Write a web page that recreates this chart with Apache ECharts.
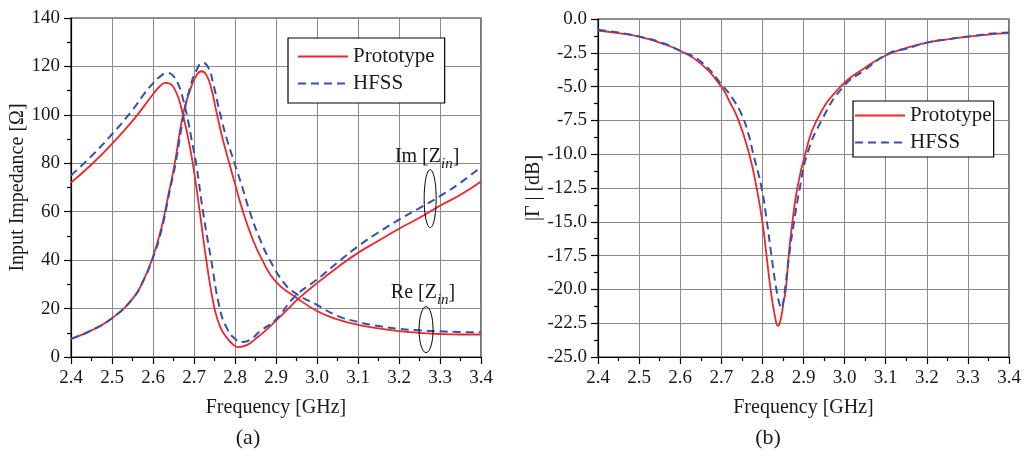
<!DOCTYPE html>
<html>
<head>
<meta charset="utf-8">
<script src="https://cdn.jsdelivr.net/npm/echarts@6/dist/echarts.min.js"></script>
<style>
html,body{margin:0;padding:0;background:#fff;}
#c{width:1028px;height:456px;}
</style>
</head>
<body>
<div id="c"></div>
<script>
// ---------- Data ----------
const xTickLabels = ['2.4','2.5','2.6','2.7','2.8','2.9','3.0','3.1','3.2','3.3','3.4'];

// (a) Re[Zin], prototype
const reProtoF = [2.40,2.45,2.50,2.55,2.575,2.60,2.62,2.64,2.653,2.673,2.69,2.705,2.718,2.73,2.742,2.755,2.77,2.787,2.80,2.816,2.84,2.865,2.90,2.95,3.00,3.05,3.10,3.15,3.20,3.25,3.30,3.35,3.40];
const reProtoV = [7.5,11,16,24,31,41.5,53,69,80,100,110,116,118,116.5,111,101,90,79.5,71.5,62,50,40.5,31,24.5,19,15.5,13.3,11.8,10.7,10,9.5,9.3,9.3];
// (a) Re[Zin], HFSS
const reHfssF = [2.40,2.45,2.50,2.55,2.575,2.60,2.62,2.64,2.655,2.675,2.69,2.705,2.722,2.735,2.748,2.763,2.78,2.80,2.818,2.836,2.86,2.885,2.92,2.946,3.00,3.05,3.10,3.15,3.20,3.25,3.30,3.35,3.40];
const reHfssV = [7.5,11,16,24,31,41,52,68,80,100,111,118,121.5,119.5,112,101,90,79.5,70,60,49,40,30.5,26.5,21.5,17,14.5,12.8,11.6,11,10.6,10.3,10.2];
// (a) Im[Zin], prototype
const imProtoF = [2.40,2.45,2.50,2.55,2.58,2.60,2.615,2.63,2.642,2.653,2.663,2.673,2.685,2.698,2.714,2.73,2.75,2.765,2.78,2.795,2.808,2.83,2.85,2.875,2.90,2.93,2.954,3.00,3.05,3.10,3.15,3.20,3.25,3.30,3.35,3.40];
const imProtoV = [72,79.5,88,97.5,104,108.5,111.5,113.2,112.8,110.5,106.5,100,91,79,60,40,20,12,8,5.2,4.1,5,7.5,11,15,20,24,30.5,37,43,48,53,57.5,62.5,67,72.5];
// (a) Im[Zin], HFSS
const imHfssF = [2.40,2.45,2.50,2.55,2.58,2.60,2.62,2.635,2.65,2.662,2.674,2.685,2.695,2.706,2.722,2.742,2.763,2.78,2.80,2.82,2.84,2.86,2.90,2.946,3.00,3.05,3.10,3.15,3.20,3.25,3.30,3.35,3.40];
const imHfssV = [75,83,92,102,109,113,116.2,117.3,116,112.5,106,98,89,79,60,40,20,12,7.5,6.2,7.5,10.5,15.5,25,32,39,45.7,51.5,56.7,61.5,66.4,72,78.5];

// (b) |Gamma| dB, prototype
const gProtoF = [2.40,2.45,2.50,2.55,2.60,2.65,2.70,2.72,2.742,2.768,2.786,2.80,2.81,2.82,2.83,2.838,2.846,2.851,2.857,2.864,2.873,2.885,2.904,2.932,2.99,3.05,3.10,3.15,3.20,3.25,3.30,3.35,3.40];
const gProtoV = [-0.85,-1.05,-1.3,-1.75,-2.35,-3.3,-5.0,-6.1,-7.5,-10,-12.5,-15,-17.5,-20,-21.9,-22.7,-22.0,-21.0,-20,-17.5,-15,-12.5,-10,-7.5,-5,-3.6,-2.7,-2.15,-1.75,-1.5,-1.3,-1.15,-1.05];
// (b) |Gamma| dB, HFSS
const gHfssF = [2.40,2.45,2.50,2.55,2.60,2.65,2.705,2.73,2.75,2.765,2.778,2.798,2.811,2.822,2.834,2.841,2.846,2.851,2.855,2.865,2.877,2.891,2.909,2.944,2.997,3.05,3.11,3.15,3.20,3.25,3.30,3.35,3.40];
const gHfssV = [-0.8,-1.0,-1.3,-1.7,-2.35,-3.15,-5,-6.0,-7.1,-8.4,-10,-12.5,-15,-17.5,-20,-21.0,-21.4,-20.9,-20,-17.5,-15,-12.5,-10,-7.5,-5,-3.75,-2.5,-2.2,-1.75,-1.5,-1.3,-1.1,-1.0];

// annotation anchors (data coordinates in panel a)
const imLabelAt = [3.19, 82.7];
const reLabelAt = [3.18, 26.6];
const imEllipseAt = [3.276, 65.4];
const reEllipseAt = [3.266, 11.3];

// ---------- Helpers ----------
const zip = (f, v) => f.map((x, i) => [x, v[i]]);
const RED = '#f0262a';
const BLUE = '#3352b0';
const FONT = '"Liberation Serif", "DejaVu Serif", serif';
const TXT = '#1a1a1a';

function xAxisFor(gi) {
  return {
    type: 'value', gridIndex: gi, min: 2.4, max: 3.4, interval: 0.1,
    name: 'Frequency [GHz]', nameLocation: 'middle', nameGap: 41,
    nameTextStyle: { fontFamily: FONT, fontSize: 20, color: TXT },
    axisLine: { show: true, onZero: false, lineStyle: { color: '#000', width: 1.2 } },
    axisTick: { show: true, inside: false, length: 7, lineStyle: { color: '#000', width: 1.2 } },
    minorTick: { show: true, splitNumber: 2, length: 4, lineStyle: { color: '#000', width: 1.2 } },
    axisLabel: { margin: 12, fontFamily: FONT, fontSize: 19, color: TXT,
      formatter: v => xTickLabels[Math.round((v - 2.4) * 10)] },
    splitLine: { show: true, lineStyle: { color: '#8a8a8a', width: 1 } }
  };
}

const series = [
  { name: 'Prototype', xAxisIndex: 0, yAxisIndex: 0, data: zip(reProtoF, reProtoV) },
  { name: 'HFSS', xAxisIndex: 0, yAxisIndex: 0, data: zip(reHfssF, reHfssV), dashed: true },
  { name: 'Prototype', xAxisIndex: 0, yAxisIndex: 0, data: zip(imProtoF, imProtoV) },
  { name: 'HFSS', xAxisIndex: 0, yAxisIndex: 0, data: zip(imHfssF, imHfssV), dashed: true },
  { name: 'Prototype', xAxisIndex: 1, yAxisIndex: 1, data: zip(gProtoF, gProtoV) },
  { name: 'HFSS', xAxisIndex: 1, yAxisIndex: 1, data: zip(gHfssF, gHfssV), dashed: true }
].map(s => ({
  name: s.name, type: 'line', xAxisIndex: s.xAxisIndex, yAxisIndex: s.yAxisIndex,
  data: s.data, showSymbol: false, symbol: 'none', smooth: 0.5, animation: false,
  z: s.dashed ? 3 : 2,
  lineStyle: s.dashed
    ? { color: BLUE, width: 2, type: [8, 5] }
    : { color: RED, width: 1.8 },
  itemStyle: { color: s.dashed ? BLUE : RED }
}));

const legendCommon = {
  orient: 'vertical', data: ['Prototype', 'HFSS'],
  backgroundColor: '#fff', borderColor: '#000', borderWidth: 1.2, borderRadius: 0,
  itemWidth: 50, itemHeight: 14, itemGap: 6, selectedMode: false,
  itemStyle: { opacity: 0 },
  textStyle: { fontFamily: FONT, fontSize: 21, color: TXT }
};

const chart = echarts.init(document.getElementById('c'), null, { renderer: 'canvas' });
chart.setOption({
  animation: false,
  backgroundColor: '#fff',
  grid: [
    { left: 71, right: 547, top: 18, bottom: 99, show: true, borderColor: '#222', borderWidth: 1.2, backgroundColor: 'transparent' },
    { left: 598, right: 19, top: 19, bottom: 99, show: true, borderColor: '#222', borderWidth: 1.2, backgroundColor: 'transparent' }
  ],
  legend: [
    Object.assign({}, legendCommon, { left: 288, top: 38, padding: [8, 10, 9, 9] }),
    Object.assign({}, legendCommon, { left: 853, top: 101, padding: [4, 2, 4, 1] })
  ],
  xAxis: [xAxisFor(0), xAxisFor(1)],
  yAxis: [
    {
      type: 'value', gridIndex: 0, min: 0, max: 140, interval: 20,
      name: 'Input Impedance [Ω]', nameLocation: 'middle', nameGap: 42,
      nameTextStyle: { fontFamily: FONT, fontSize: 20, color: TXT },
      axisLine: { show: true, onZero: false, lineStyle: { color: '#000', width: 1.2 } },
      axisTick: { show: true, inside: false, length: 7, lineStyle: { color: '#000', width: 1.2 } },
      minorTick: { show: true, splitNumber: 2, length: 4, lineStyle: { color: '#000', width: 1.2 } },
      axisLabel: { margin: 11, fontFamily: FONT, fontSize: 19, color: TXT },
      splitLine: { show: true, lineStyle: { color: '#8a8a8a', width: 1 } }
    },
    {
      type: 'value', gridIndex: 1, min: -25, max: 0, interval: 2.5,
      name: '|Γ | [dB]', nameLocation: 'middle', nameGap: 50,
      nameTextStyle: { fontFamily: FONT, fontSize: 20, color: TXT },
      axisLine: { show: true, onZero: false, lineStyle: { color: '#000', width: 1.2 } },
      axisTick: { show: true, inside: false, length: 7, lineStyle: { color: '#000', width: 1.2 } },
      minorTick: { show: true, splitNumber: 2, length: 4, lineStyle: { color: '#000', width: 1.2 } },
      axisLabel: { margin: 11, fontFamily: FONT, fontSize: 19, color: TXT, formatter: v => v.toFixed(1) },
      splitLine: { show: true, lineStyle: { color: '#8a8a8a', width: 1 } }
    }
  ],
  series: series
});

// annotations placed through the axis scales
const P = c => chart.convertToPixel({ gridIndex: 0 }, c);
const imL = P(imLabelAt), reL = P(reLabelAt), imE = P(imEllipseAt), reE = P(reEllipseAt);
const subRich = { s: { fontFamily: FONT, fontSize: 15, fontStyle: 'italic', color: TXT, lineHeight: 15, verticalAlign: 'bottom' } };
chart.setOption({
  graphic: [
    { type: 'text', x: imL[0], y: imL[1], z: 50,
      style: { text: 'Im [Z{s|in}]', rich: subRich, fontFamily: FONT, fontSize: 20, lineHeight: 30, fill: TXT, align: 'left', verticalAlign: 'middle' } },
    { type: 'text', x: reL[0], y: reL[1], z: 50,
      style: { text: 'Re [Z{s|in}]', rich: subRich, fontFamily: FONT, fontSize: 20, lineHeight: 30, fill: TXT, align: 'left', verticalAlign: 'middle' } },
    { type: 'ellipse', z: 50, shape: { cx: imE[0], cy: imE[1], rx: 6, ry: 29 }, style: { fill: 'none', stroke: '#000', lineWidth: 1 } },
    { type: 'ellipse', z: 50, shape: { cx: reE[0], cy: reE[1], rx: 7, ry: 23 }, style: { fill: 'none', stroke: '#000', lineWidth: 1 } },
    { type: 'text', x: 248, y: 438, z: 50, style: { text: '(a)', fontFamily: FONT, fontSize: 22, fill: TXT, align: 'center', verticalAlign: 'middle' } },
    { type: 'text', x: 768, y: 438, z: 50, style: { text: '(b)', fontFamily: FONT, fontSize: 22, fill: TXT, align: 'center', verticalAlign: 'middle' } }
  ]
});
</script>
</body>
</html>
